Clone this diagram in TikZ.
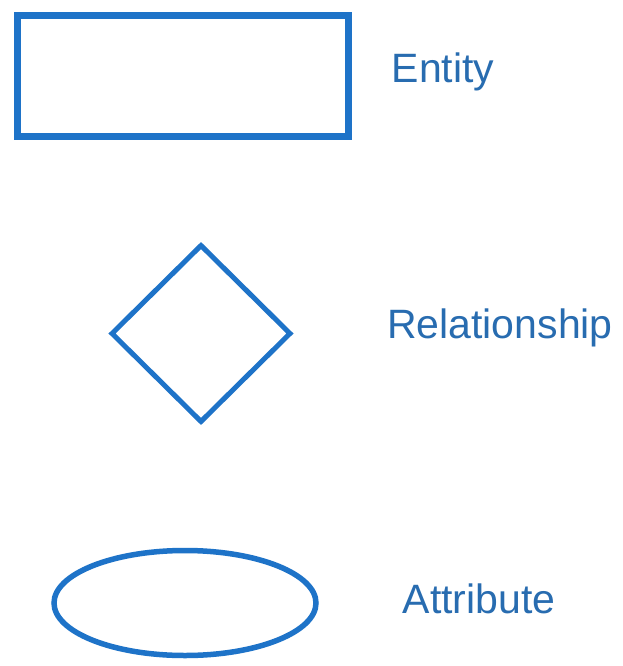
\documentclass[tikz,border=0pt]{standalone}
\usepackage{fontspec}
\setmainfont{Liberation Sans}
\usetikzlibrary{shapes.geometric}
\definecolor{shapeblue}{RGB}{30,115,200}
\definecolor{textblue}{RGB}{40,108,176}
\begin{document}
\begin{tikzpicture}[x=1pt,y=-1pt,
  shapebox/.style={draw=shapeblue,inner sep=0pt,fill=white},
  lbl/.style={text=textblue,font=\fontsize{41}{48}\selectfont,inner sep=0pt,anchor=base}]
\useasboundingbox[fill=white] (0,0) rectangle (623,666);
\node[shapebox,rectangle,line width=7pt,minimum width=331pt,minimum height=121pt] (entity) at (183,76) {};
\node[shapebox,diamond,line width=5pt,minimum width=180pt,minimum height=178pt] (rel) at (201,333.5) {};
\node[shapebox,ellipse,line width=5.5pt,minimum width=262pt,minimum height=105pt] (attr) at (185,603) {};
\node[lbl] (entitylbl) at (443,83) {Entity};
\node[lbl] (rellbl) at (500,338) {Relationship};
\node[lbl] (attrlbl) at (479,613) {Attribute};
\end{tikzpicture}
\end{document}
